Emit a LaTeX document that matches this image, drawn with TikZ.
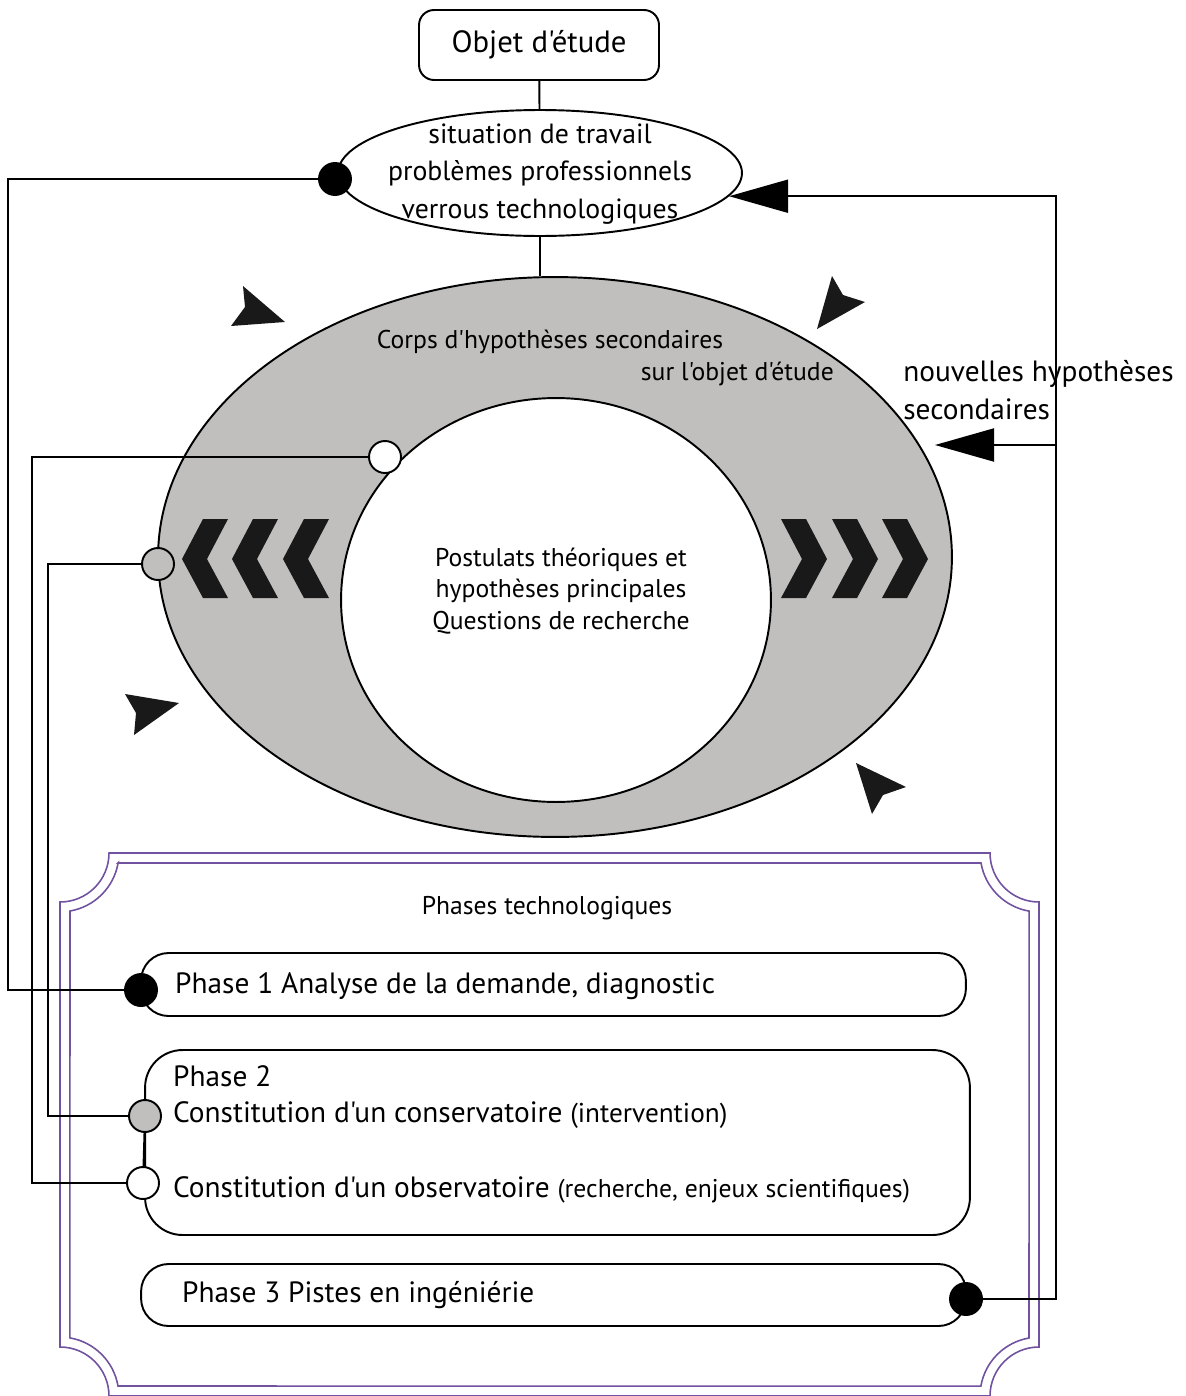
\documentclass[tikz,border=0pt]{standalone}
\usepackage{fontspec}
\setmainfont{PT Sans}[Ligatures=TeXOff]
\usepackage{tikz}
\usetikzlibrary{shapes.geometric,arrows.meta,positioning}
\definecolor{ringgrey}{RGB}{192,191,190}
\definecolor{framepurple}{RGB}{112,82,160}
\newcommand{\bigtxt}{\fontsize{16.7}{21.3}\selectfont}
\newcommand{\smalltxt}{\fontsize{14.6}{18.1}\selectfont}
\tikzstyle{line} = [draw, line width=1.1pt]
\tikzstyle{bigarrow} = [line, -{Triangle[length=1.18cm,width=0.66cm]}]
\tikzstyle{bdot} = [circle, draw, line width=1.1pt, fill=black, minimum size=0.64cm, inner sep=0pt]
\tikzstyle{gdot} = [bdot, fill=ringgrey]
\tikzstyle{wdot} = [bdot, fill=white]
\tikzstyle{phase} = [rectangle, draw, line width=1.1pt, rounded corners=0.55cm, inner sep=0pt]
\tikzstyle{tip} = [fill=black!90]
\tikzstyle{frame} = [draw=framepurple, line width=0.9pt]

\begin{document}
\begin{tikzpicture}[x=0.02cm, y=-0.02cm]
    \useasboundingbox (0,0) rectangle (1186,1396);
    % Frame
    \path[frame] (109,853) -- (990,853) arc[start angle=180, end angle=270, radius=0.98cm]
        -- (1039,1347) arc[start angle=90, end angle=180, radius=0.98cm]
        -- (109,1396) arc[start angle=0, end angle=90, radius=0.98cm]
        -- (60,902) arc[start angle=270, end angle=360, radius=0.98cm] -- cycle;
    \path[frame] (118,863) -- (981,863) arc[start angle=189.77, end angle=260.23, radius=1.18cm]
        -- (1029,1338) arc[start angle=99.77, end angle=170.23, radius=1.18cm]
        -- (118,1386) arc[start angle=9.77, end angle=80.23, radius=1.18cm]
        -- (70,911) arc[start angle=279.77, end angle=350.23, radius=1.18cm] -- cycle;
    % Nodes
    \node [rectangle, draw, line width=1.1pt, rounded corners=0.3cm, minimum width=4.8cm,
        minimum height=1.4cm, font=\fontsize{17.5}{21}\selectfont] (objet) at (539,45) {Objet d'étude};
    \node [ellipse, draw, line width=1.1pt, minimum width=8.08cm, minimum height=2.52cm,
        inner sep=0pt] (situ) at (540,173) {};
    \node [align=center, font=\fontsize{15.8}{21.3}\selectfont] (situtxt) at (540,174)
        {situation de travail\\ problèmes professionnels\\ verrous technologiques};
    \node [ellipse, draw, line width=1.1pt, fill=ringgrey, minimum width=15.88cm,
        minimum height=11.2cm, inner sep=0pt] (ring) at (555,557) {};
    \node [ellipse, draw, line width=1.1pt, fill=white, minimum width=8.6cm,
        minimum height=8.08cm, inner sep=0pt] (core) at (556,600) {};
    \node [align=center, font=\smalltxt] (postulats) at (561,591)
        {Postulats théoriques et\\ hypothèses principales\\ Questions de recherche};
    \node [font=\smalltxt] (corps) at (550,342) {Corps d'hypothèses secondaires};
    \node [anchor=east, font=\smalltxt] (surobjet) at (840,374) {sur l'objet d'étude};
    \node [anchor=west, align=left, inner sep=0pt, font=\bigtxt] (nouvelles) at (903,390)
        {nouvelles hypothèses\\ secondaires};
    % Chevrons
    \foreach \t in {182,232,283}
        \fill[tip] (\t,559) -- (\t+21,519) -- (\t+46,519) -- (\t+25,559) -- (\t+46,598) -- (\t+21,598) -- cycle;
    \foreach \t in {928,878,827}
        \fill[tip] (\t,559) -- (\t-21,519) -- (\t-46,519) -- (\t-25,559) -- (\t-46,598) -- (\t-21,598) -- cycle;
    % Rotation tips
    \fill[tip] (285,322) -- (243,286) -- (245,307) -- (231,326) -- cycle;
    \fill[tip] (817,329) -- (832,276) -- (843,295) -- (865,302) -- cycle;
    \fill[tip] (179,703) -- (125,694) -- (136,713) -- (134,735) -- cycle;
    \fill[tip] (856,763) -- (906,787) -- (883,795) -- (872,814) -- cycle;
    % Phases
    \node [font=\smalltxt] (phases) at (547,908) {Phases technologiques};
    \node [phase, minimum width=16.5cm, minimum height=1.26cm] (phase1) at (553.5,984.5) {};
    \node [phase, rounded corners=0.75cm, minimum width=16.5cm, minimum height=3.7cm] (phase2) at (557.5,1142.5) {};
    \node [phase, minimum width=16.5cm, minimum height=1.24cm] (phase3) at (553.5,1295) {};
    \node [anchor=west, font=\bigtxt] (p1txt) at (169,986) {Phase 1 Analyse de la demande, diagnostic};
    \node [anchor=west, font=\bigtxt] (p2txt) at (167,1076) {Phase 2};
    \node [anchor=base west, font=\bigtxt] (constxt) at (167,1122)
        {Constitution d'un conservatoire {\fontsize{15.5}{18}\selectfont(intervention)}};
    \node [anchor=base west, font=\bigtxt] (obstxt) at (167,1197)
        {Constitution d'un observatoire {\smalltxt(recherche, enjeux scientifiques)}};
    \node [anchor=west, font=\bigtxt] (p3txt) at (176,1295) {Phase 3 Pistes en ingéniérie};
    % Dots
    \node [bdot] (dottop) at (335,179) {};
    \node [wdot] (dotin) at (385,457) {};
    \node [gdot] (dotring) at (158,564) {};
    \node [bdot] (dotp1) at (141,990) {};
    \node [gdot] (dotcons) at (145,1116) {};
    \node [wdot] (dotobs) at (143,1183) {};
    \node [bdot] (dotp3) at (966,1299) {};
    \coordinate (branch) at (1056,445);
    \coordinate (newtip) at (935,445);
    % Paths
    \path [line] (objet) -- (situ);
    \path [line] (situ.south) -- (situ.south |- ring.north);
    \path [line] (dottop) -- ++(-327,0) |- (dotp1);
    \path [line] (dotin) -- ++(-353,0) |- (dotobs);
    \path [line] (dotring) -- ++(-110,0) |- (dotcons);
    \path [line] (dotcons) -- (dotobs);
    \path [bigarrow] (dotp3) -- ++(90,0) |- (situ.-7.5);
    \path [bigarrow] (branch) -- (newtip);
\end{tikzpicture}
\end{document}
